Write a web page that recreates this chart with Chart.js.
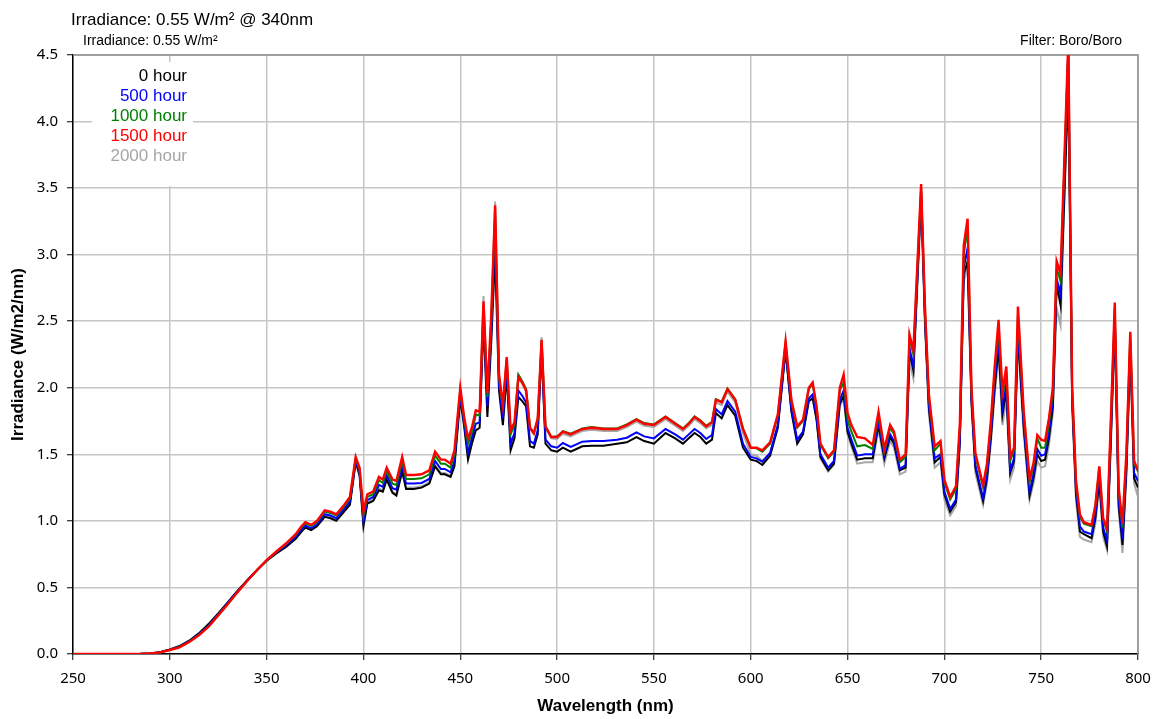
<!DOCTYPE html>
<html>
<head>
<meta charset="utf-8">
<title>Irradiance</title>
<script src="https://cdn.jsdelivr.net/npm/chart.js@4.4.1/dist/chart.umd.min.js"></script>
<style>
  body { margin: 0; background: #fff; }
  #wrap { width: 1165px; height: 719px; position: relative; }
</style>
</head>
<body>
<div id="wrap"><canvas id="chart"></canvas></div>
<script>
// --- Data ---

const wavelengths = [
  250, 260, 270, 280, 285, 290, 295, 300, 305, 310,
  315, 320, 325, 330, 335, 340, 345, 350, 355, 360,
  365, 368, 370, 373, 376, 380, 383, 386, 390, 393,
  396, 398, 400, 402, 405, 408, 410, 412, 415, 417,
  420, 422, 426, 430, 434, 437, 440, 442, 445, 447,
  450, 452, 454, 456, 458, 460, 462, 464, 466, 468,
  470, 472, 474, 476, 478, 480, 482, 484, 486, 488,
  490, 492, 494, 497, 500, 503, 507, 510, 513, 518,
  524, 531, 536, 541, 545, 550, 556, 561, 565, 568,
  571, 574, 577, 580, 582, 585, 588, 592, 596, 600,
  603, 606, 610, 614, 618, 621, 624, 627, 630, 632,
  634, 636, 640, 643, 646, 648, 650, 652, 655, 659,
  663, 666, 669, 672, 674, 677, 680, 682, 684, 688,
  690, 692, 695, 698, 700, 703, 706, 708, 710, 712,
  714, 716, 720, 722, 724, 726, 728, 730, 732, 734,
  736, 738, 741, 744, 746, 748, 750, 752, 754, 756,
  758, 760, 764, 766, 768, 770, 772, 776, 778, 780,
  782, 784, 786, 788, 790, 792, 794, 796, 798, 800,
];

const hour0 = [
  0, 0, 0, 0, 0.001, 0.004, 0.014, 0.035, 0.06, 0.10,
  0.155, 0.225, 0.305, 0.39, 0.475, 0.555, 0.63, 0.70, 0.755, 0.805,
  0.865, 0.92, 0.95, 0.93, 0.96, 1.03, 1.02, 1.00, 1.07, 1.12,
  1.44, 1.34, 0.96, 1.13, 1.15, 1.23, 1.22, 1.31, 1.21, 1.19,
  1.37, 1.24, 1.24, 1.25, 1.28, 1.41, 1.35, 1.35, 1.33, 1.41,
  1.92, 1.71, 1.46, 1.58, 1.68, 1.70, 2.50, 1.78, 2.35, 3.00,
  1.98, 1.72, 2.10, 1.53, 1.62, 1.93, 1.90, 1.86, 1.56, 1.55,
  1.65, 2.28, 1.58, 1.53, 1.52, 1.55, 1.52, 1.54, 1.56, 1.565,
  1.565, 1.58, 1.59, 1.63, 1.60, 1.58, 1.66, 1.62, 1.58, 1.62,
  1.66, 1.63, 1.58, 1.61, 1.81, 1.77, 1.87, 1.79, 1.55, 1.46,
  1.45, 1.42, 1.49, 1.70, 2.28, 1.82, 1.58, 1.65, 1.90, 1.92,
  1.76, 1.48, 1.38, 1.43, 1.88, 1.94, 1.67, 1.58, 1.46, 1.47,
  1.47, 1.72, 1.47, 1.63, 1.58, 1.38, 1.40, 2.27, 2.13, 3.45,
  2.50, 1.85, 1.44, 1.48, 1.20, 1.07, 1.14, 1.60, 2.85, 2.95,
  1.90, 1.40, 1.15, 1.32, 1.62, 2.00, 2.30, 1.80, 1.98, 1.36,
  1.45, 2.40, 1.70, 1.19, 1.32, 1.50, 1.45, 1.46, 1.62, 1.85,
  2.78, 2.62, 4.28, 1.90, 1.20, 0.92, 0.90, 0.87, 1.02, 1.30,
  0.92, 0.81, 1.62, 2.50, 1.12, 0.82, 1.38, 2.30, 1.32, 1.25,
];

const hour500 = [
  0, 0, 0, 0, 0.001, 0.004, 0.013, 0.032, 0.055, 0.095,
  0.148, 0.215, 0.298, 0.383, 0.47, 0.552, 0.63, 0.702, 0.762, 0.815,
  0.878, 0.935, 0.965, 0.945, 0.975, 1.05, 1.04, 1.02, 1.09, 1.145,
  1.455, 1.36, 1.00, 1.155, 1.18, 1.27, 1.255, 1.345, 1.245, 1.235,
  1.41, 1.28, 1.28, 1.285, 1.315, 1.45, 1.39, 1.39, 1.365, 1.45,
  1.95, 1.73, 1.51, 1.62, 1.73, 1.74, 2.55, 1.86, 2.42, 3.20,
  2.02, 1.77, 2.15, 1.58, 1.66, 1.98, 1.94, 1.89, 1.60, 1.58,
  1.68, 2.31, 1.61, 1.56, 1.55, 1.585, 1.555, 1.575, 1.595, 1.60,
  1.60, 1.61, 1.625, 1.665, 1.635, 1.62, 1.69, 1.65, 1.61, 1.65,
  1.69, 1.66, 1.615, 1.645, 1.84, 1.80, 1.90, 1.82, 1.58, 1.48,
  1.47, 1.445, 1.51, 1.72, 2.30, 1.84, 1.61, 1.67, 1.92, 1.95,
  1.78, 1.50, 1.40, 1.45, 1.91, 1.98, 1.70, 1.61, 1.49, 1.50,
  1.50, 1.74, 1.49, 1.65, 1.60, 1.39, 1.42, 2.30, 2.16, 3.47,
  2.52, 1.87, 1.47, 1.50, 1.22, 1.09, 1.16, 1.62, 2.90, 3.05,
  1.92, 1.42, 1.17, 1.34, 1.65, 2.04, 2.36, 1.85, 2.03, 1.38,
  1.47, 2.45, 1.72, 1.22, 1.35, 1.54, 1.49, 1.50, 1.66, 1.90,
  2.82, 2.70, 4.55, 1.93, 1.23, 0.96, 0.92, 0.90, 1.05, 1.34,
  0.95, 0.85, 1.66, 2.55, 1.16, 0.86, 1.42, 2.34, 1.36, 1.30,
];

const hour1000 = [
  0, 0, 0, 0, 0.001, 0.004, 0.012, 0.031, 0.052, 0.092,
  0.143, 0.208, 0.292, 0.377, 0.466, 0.55, 0.63, 0.704, 0.767, 0.825,
  0.893, 0.952, 0.982, 0.962, 0.992, 1.07, 1.06, 1.04, 1.11, 1.165,
  1.47, 1.385, 1.04, 1.18, 1.20, 1.305, 1.285, 1.375, 1.28, 1.27,
  1.45, 1.315, 1.315, 1.32, 1.35, 1.49, 1.43, 1.43, 1.40, 1.50,
  1.98, 1.76, 1.58, 1.67, 1.80, 1.79, 2.62, 1.93, 2.50, 3.30,
  2.08, 1.84, 2.21, 1.65, 1.72, 2.10, 2.05, 1.99, 1.70, 1.66,
  1.76, 2.35, 1.71, 1.63, 1.635, 1.675, 1.655, 1.675, 1.695, 1.705,
  1.695, 1.695, 1.725, 1.765, 1.735, 1.725, 1.785, 1.735, 1.695, 1.735,
  1.785, 1.755, 1.715, 1.745, 1.915, 1.895, 1.995, 1.915, 1.695, 1.55,
  1.545, 1.52, 1.58, 1.79, 2.34, 1.90, 1.70, 1.75, 1.99, 2.03,
  1.85, 1.57, 1.47, 1.52, 1.98, 2.04, 1.76, 1.67, 1.56, 1.57,
  1.54, 1.79, 1.52, 1.70, 1.65, 1.44, 1.48, 2.38, 2.25, 3.50,
  2.58, 1.93, 1.53, 1.58, 1.29, 1.16, 1.24, 1.70, 3.00, 3.20,
  1.98, 1.49, 1.25, 1.41, 1.72, 2.12, 2.45, 1.92, 2.12, 1.45,
  1.53, 2.55, 1.79, 1.29, 1.41, 1.62, 1.55, 1.55, 1.73, 1.96,
  2.90, 2.80, 4.55, 1.98, 1.28, 1.03, 0.98, 0.96, 1.11, 1.40,
  1.01, 0.92, 1.74, 2.60, 1.23, 0.95, 1.48, 2.40, 1.43, 1.37,
];

const hour1500 = [
  0, 0, 0, 0, 0.001, 0.004, 0.012, 0.03, 0.05, 0.09,
  0.14, 0.205, 0.29, 0.375, 0.465, 0.55, 0.63, 0.705, 0.77, 0.83,
  0.90, 0.96, 0.99, 0.97, 1.00, 1.08, 1.07, 1.05, 1.12, 1.18,
  1.48, 1.40, 1.07, 1.20, 1.22, 1.33, 1.31, 1.40, 1.31, 1.30,
  1.48, 1.345, 1.345, 1.35, 1.38, 1.52, 1.46, 1.46, 1.43, 1.53,
  2.00, 1.78, 1.62, 1.70, 1.83, 1.82, 2.65, 1.96, 2.55, 3.37,
  2.10, 1.87, 2.23, 1.68, 1.74, 2.08, 2.04, 1.98, 1.70, 1.66,
  1.77, 2.36, 1.71, 1.63, 1.63, 1.67, 1.65, 1.67, 1.69, 1.70,
  1.69, 1.69, 1.72, 1.76, 1.73, 1.72, 1.78, 1.73, 1.69, 1.73,
  1.78, 1.75, 1.71, 1.74, 1.91, 1.89, 1.99, 1.91, 1.69, 1.55,
  1.55, 1.53, 1.59, 1.80, 2.35, 1.91, 1.71, 1.76, 2.00, 2.04,
  1.86, 1.58, 1.48, 1.53, 2.00, 2.10, 1.81, 1.72, 1.63, 1.62,
  1.57, 1.82, 1.54, 1.72, 1.67, 1.46, 1.50, 2.40, 2.28, 3.53,
  2.60, 1.95, 1.56, 1.60, 1.31, 1.18, 1.26, 1.73, 3.07, 3.27,
  2.00, 1.51, 1.27, 1.43, 1.75, 2.16, 2.51, 1.97, 2.16, 1.48,
  1.55, 2.61, 1.82, 1.32, 1.43, 1.645, 1.61, 1.60, 1.77, 2.00,
  2.95, 2.86, 4.60, 2.00, 1.30, 1.05, 0.99, 0.97, 1.12, 1.41,
  1.02, 0.94, 1.77, 2.64, 1.25, 0.98, 1.51, 2.42, 1.45, 1.38,
];

const hour2000 = [
  0, 0, 0, 0, 0.001, 0.004, 0.013, 0.033, 0.057, 0.098,
  0.152, 0.22, 0.30, 0.386, 0.472, 0.553, 0.63, 0.70, 0.758, 0.81,
  0.87, 0.925, 0.955, 0.935, 0.965, 1.04, 1.03, 1.01, 1.08, 1.13,
  1.46, 1.36, 0.98, 1.14, 1.16, 1.245, 1.23, 1.32, 1.22, 1.20,
  1.38, 1.25, 1.25, 1.26, 1.29, 1.42, 1.36, 1.36, 1.34, 1.43,
  1.97, 1.75, 1.56, 1.66, 1.79, 1.80, 2.69, 1.92, 2.52, 3.40,
  2.10, 1.85, 2.23, 1.66, 1.72, 2.07, 2.03, 1.97, 1.69, 1.65,
  1.76, 2.38, 1.70, 1.62, 1.615, 1.655, 1.635, 1.655, 1.675, 1.685,
  1.675, 1.675, 1.705, 1.745, 1.715, 1.705, 1.765, 1.715, 1.675, 1.715,
  1.765, 1.735, 1.695, 1.72, 1.89, 1.87, 1.97, 1.89, 1.66, 1.50,
  1.49, 1.45, 1.51, 1.72, 2.28, 1.83, 1.60, 1.66, 1.91, 1.93,
  1.76, 1.47, 1.37, 1.42, 1.86, 1.92, 1.65, 1.56, 1.43, 1.44,
  1.44, 1.69, 1.43, 1.60, 1.55, 1.35, 1.37, 2.20, 2.07, 3.40,
  2.45, 1.80, 1.40, 1.44, 1.16, 1.04, 1.11, 1.56, 2.80, 2.90,
  1.86, 1.36, 1.12, 1.28, 1.58, 1.95, 2.25, 1.72, 1.92, 1.31,
  1.40, 2.35, 1.65, 1.16, 1.28, 1.45, 1.40, 1.41, 1.57, 1.80,
  2.60, 2.47, 4.40, 1.85, 1.15, 0.88, 0.86, 0.84, 0.98, 1.26,
  0.88, 0.78, 1.58, 2.42, 1.08, 0.76, 1.33, 2.22, 1.28, 1.18,
];

const seriesNames = ['0 hour', '500 hour', '1000 hour', '1500 hour', '2000 hour'];
const seriesValues = [hour0, hour500, hour1000, hour1500, hour2000];
const seriesColors = ['#000000', '#0000ff', '#008000', '#ff0000', '#a6a6a6'];
const drawOrder = [3, 2, 1, 0, 4]; // red on top, grey underneath

const titleText = 'Irradiance: 0.55 W/m\u00b2 @ 340nm';
const subtitleLeft = 'Irradiance: 0.55 W/m\u00b2';
const subtitleRight = 'Filter: Boro/Boro';
const xAxisTitle = 'Wavelength (nm)';
const yAxisTitle = 'Irradiance (W/m2/nm)';

// --- Chart ---

const ARIAL = '"Liberation Sans", Arial, sans-serif';
const TICK_FONT = '"Noto Sans", "DejaVu Sans", sans-serif';

const datasets = seriesNames.map((name, i) => ({
  label: name,
  data: wavelengths.map((w, j) => ({ x: w, y: seriesValues[i][j] })),
  borderColor: seriesColors[i],
  borderWidth: i === 3 ? 2.4 : 2,
  pointRadius: 0,
  tension: 0,
  fill: false,
  order: drawOrder[i],
}));

const decorations = {
  id: 'decorations',
  beforeDatasetsDraw(chart) {
    const { ctx, chartArea: a } = chart;
    ctx.save();
    // top and right frame
    ctx.strokeStyle = '#8e8e8e';
    ctx.lineWidth = 1.5;
    ctx.beginPath();
    ctx.moveTo(a.left, a.top);
    ctx.lineTo(a.right, a.top);
    ctx.lineTo(a.right, a.bottom);
    ctx.stroke();

    // legend box (hides the grid behind it)
    ctx.fillStyle = '#ffffff';
    ctx.fillRect(92, 62, 101, 124);
    ctx.font = '17px ' + ARIAL;
    ctx.textAlign = 'right';
    ctx.textBaseline = 'middle';
    seriesNames.forEach((name, i) => {
      ctx.fillStyle = seriesColors[i];
      ctx.fillText(name, 187, 76 + i * 20);
    });
    ctx.restore();
  },
  afterDraw(chart) {
    const { ctx } = chart;
    ctx.save();
    ctx.fillStyle = '#000';
    ctx.textBaseline = 'alphabetic';
    ctx.textAlign = 'left';
    ctx.font = '17px ' + ARIAL;
    ctx.fillText(titleText, 71, 25);
    ctx.font = '14px ' + ARIAL;
    ctx.fillText(subtitleLeft, 83, 45);
    ctx.textAlign = 'right';
    ctx.fillText(subtitleRight, 1122, 45);
    ctx.restore();
  },
};

new Chart(document.getElementById('chart'), {
  type: 'line',
  data: { datasets },
  plugins: [decorations],
  options: {
    responsive: true,
    maintainAspectRatio: false,
    animation: false,
    events: [],
    layout: { padding: { top: 55, right: 27, left: 0, bottom: 0 } },
    plugins: {
      legend: { display: false },
      tooltip: { enabled: false },
      title: { display: false },
    },
    scales: {
      x: {
        type: 'linear',
        min: 250,
        max: 800,
        afterFit: (scale) => { scale.height = 65; },
        ticks: {
          stepSize: 50,
          color: '#000',
          padding: 10,
          font: { family: TICK_FONT, size: 15 },
        },
        grid: {
          color: '#c6c6c6',
          lineWidth: 1.5,
          tickColor: '#000',
          tickLength: 6,
          tickWidth: 1,
        },
        border: { color: '#000', width: 1.5 },
        title: {
          display: true,
          text: xAxisTitle,
          color: '#000',
          padding: { top: 0, bottom: 2 },
          font: { family: ARIAL, size: 17, weight: 'bold' },
        },
      },
      y: {
        min: 0,
        max: 4.5,
        afterFit: (scale) => { scale.width = 73; },
        ticks: {
          stepSize: 0.5,
          color: '#000',
          padding: 9,
          font: { family: TICK_FONT, size: 15 },
          callback: (v) => v.toFixed(1),
        },
        grid: {
          color: '#c6c6c6',
          lineWidth: 1.5,
          tickColor: '#000',
          tickLength: 6,
          tickWidth: 1,
        },
        border: { color: '#000', width: 1.5 },
        title: {
          display: true,
          text: yAxisTitle,
          color: '#000',
          padding: { top: 8, bottom: 0 },
          font: { family: ARIAL, size: 17, weight: 'bold' },
        },
      },
    },
  },
});
</script>
</body>
</html>
